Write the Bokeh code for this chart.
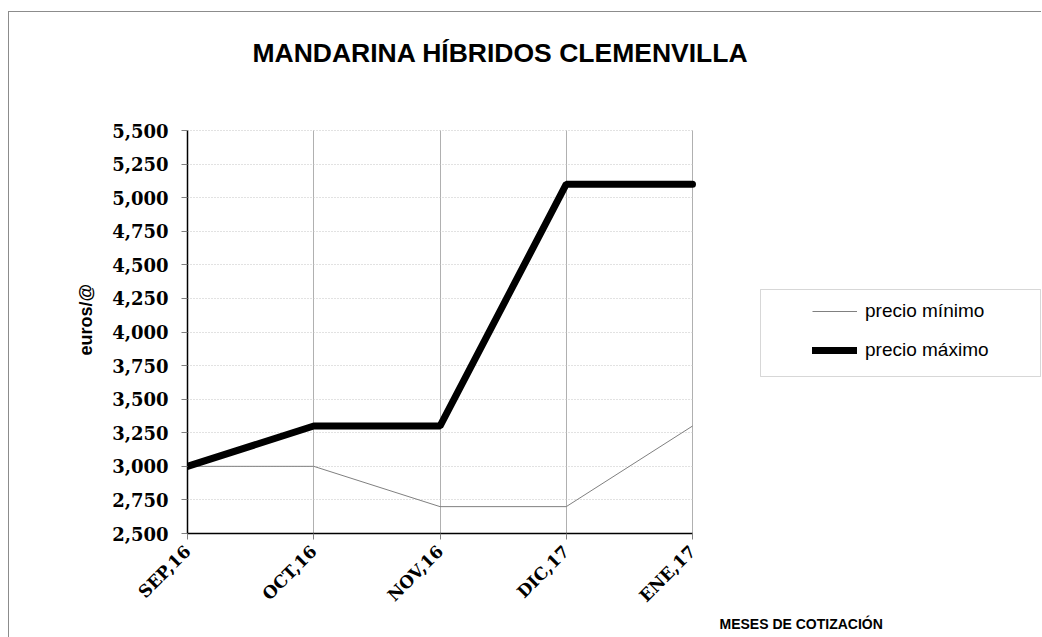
import math
from bokeh.plotting import figure
from bokeh.models import (Range1d, FixedTicker, CustomJSTickFormatter, Legend, LegendItem,
                          BoxAnnotation, Title, Label)
from bokeh.embed import file_html
from bokeh.resources import INLINE

# ---- data ----
months = ["SEP,16", "OCT,16", "NOV,16", "DIC,17", "ENE,17"]
precio_min = [3.00, 3.00, 2.70, 2.70, 3.30]
precio_max = [3.00, 3.30, 3.30, 5.10, 5.10]
y_ticks = [2.50, 2.75, 3.00, 3.25, 3.50, 3.75, 4.00, 4.25, 4.50, 4.75, 5.00, 5.25, 5.50]
title_text = "MANDARINA HÍBRIDOS CLEMENVILLA"
y_title = "euros/@"
x_title = "MESES DE COTIZACIÓN"
series_names = ["precio mínimo", "precio máximo"]

x = list(range(len(months)))
x_last = len(months) - 1
y_lo, y_hi = y_ticks[0], y_ticks[-1]

# geometry (pixels): the frame is widened to the right (legend) and upward (title)
FRAME_W, PLOT_W = 854, 505
FRAME_H, PLOT_H = 521, 403
x_end = x_last * FRAME_W / PLOT_W
y_end = y_lo + (y_hi - y_lo) * FRAME_H / PLOT_H

p = figure(frame_width=FRAME_W, frame_height=FRAME_H,
           min_border_left=178, min_border_right=0, min_border_top=0, min_border_bottom=104,
           x_range=Range1d(0, x_end), y_range=Range1d(y_lo, y_end),
           output_backend="svg", toolbar_location=None, tools="")
p.margin = (11, 0, 0, 8)
p.styles = {"border-left": "1px solid #8c8c8c", "border-top": "1px solid #8c8c8c"}
p.outline_line_color = None
p.background_fill_color = "white"
p.border_fill_color = "white"

# axes
p.xaxis.bounds = (0, x_last)
p.xaxis.ticker = FixedTicker(ticks=x)
p.xaxis.major_label_overrides = {i: m for i, m in enumerate(months)}
p.xaxis.major_label_orientation = math.pi / 4
p.xaxis.major_label_text_font = "DejaVu Serif"
p.xaxis.major_label_text_font_style = "bold"
p.xaxis.major_label_text_font_size = "17px"
p.xaxis.major_label_text_color = "black"
p.xaxis.major_label_standoff = 9
p.xaxis.major_tick_out = 6
p.xaxis.major_tick_in = 0
p.xaxis.minor_tick_line_color = None
p.xaxis.major_tick_line_color = "#808080"
p.xaxis.axis_line_color = "black"
p.xaxis.axis_line_width = 1.5

p.yaxis.bounds = (y_lo, y_hi)
p.yaxis.ticker = FixedTicker(ticks=y_ticks)
p.yaxis.formatter = CustomJSTickFormatter(code="return tick.toFixed(3).replace('.', ',');")
p.yaxis.major_label_text_font = "DejaVu Serif"
p.yaxis.major_label_text_font_style = "bold"
p.yaxis.major_label_text_font_size = "18px"
p.yaxis.major_label_text_color = "black"
p.yaxis.major_label_standoff = 13
p.yaxis.major_tick_out = 6
p.yaxis.major_tick_in = 0
p.yaxis.minor_tick_line_color = None
p.yaxis.major_tick_line_color = "#808080"
p.yaxis.axis_line_color = "black"
p.yaxis.axis_line_width = 1.5

# grids
p.xgrid.grid_line_color = "#b0b0b0"
p.xgrid.grid_line_width = 1
p.xgrid.cross_bounds = (y_lo, y_hi)
p.ygrid.grid_line_color = "#c4c4c4"
p.ygrid.grid_line_dash = "1 2"
p.ygrid.grid_line_width = 1
p.ygrid.cross_bounds = (0, x_last)

# series
r_min = p.line(x, precio_min, line_color="#808080", line_width=1)
r_max = p.line(x, precio_max, line_color="black", line_width=7, line_cap="round")

# legend (inside the widened frame)
legend = Legend(items=[LegendItem(label=series_names[0], renderers=[r_min]),
                       LegendItem(label=series_names[1], renderers=[r_max])],
                location=(619, 159), padding=6, spacing=3, margin=0,
                glyph_width=45, glyph_height=36, label_height=36, label_standoff=8,
                label_text_font="Liberation Sans", label_text_font_size="19px",
                label_text_color="black",
                border_line_alpha=0, background_fill_alpha=0)
p.add_layout(legend)

p.add_layout(BoxAnnotation(left=573, right=853, top=244, bottom=157,
                           left_units="screen", right_units="screen",
                           top_units="screen", bottom_units="screen",
                           fill_alpha=0, line_color="#7a7a7a", line_width=1))

# titles
p.add_layout(Label(x=313, y=481, x_units="screen", y_units="screen", text=title_text,
                   text_align="center", text_baseline="middle",
                   text_font="Liberation Sans", text_font_style="bold",
                   text_font_size="26.5px", text_color="black"))
p.add_layout(Title(text=x_title, align="left", offset=532, standoff=-3,
                   text_font="Liberation Sans", text_font_style="bold",
                   text_font_size="14px", text_color="black"), "below")
p.add_layout(Title(text=y_title, align="left", offset=178, standoff=27,
                   text_font="Liberation Sans", text_font_style="bold",
                   text_font_size="18px", text_color="black"), "left")

open("out.html", "w").write(file_html(p, INLINE))
